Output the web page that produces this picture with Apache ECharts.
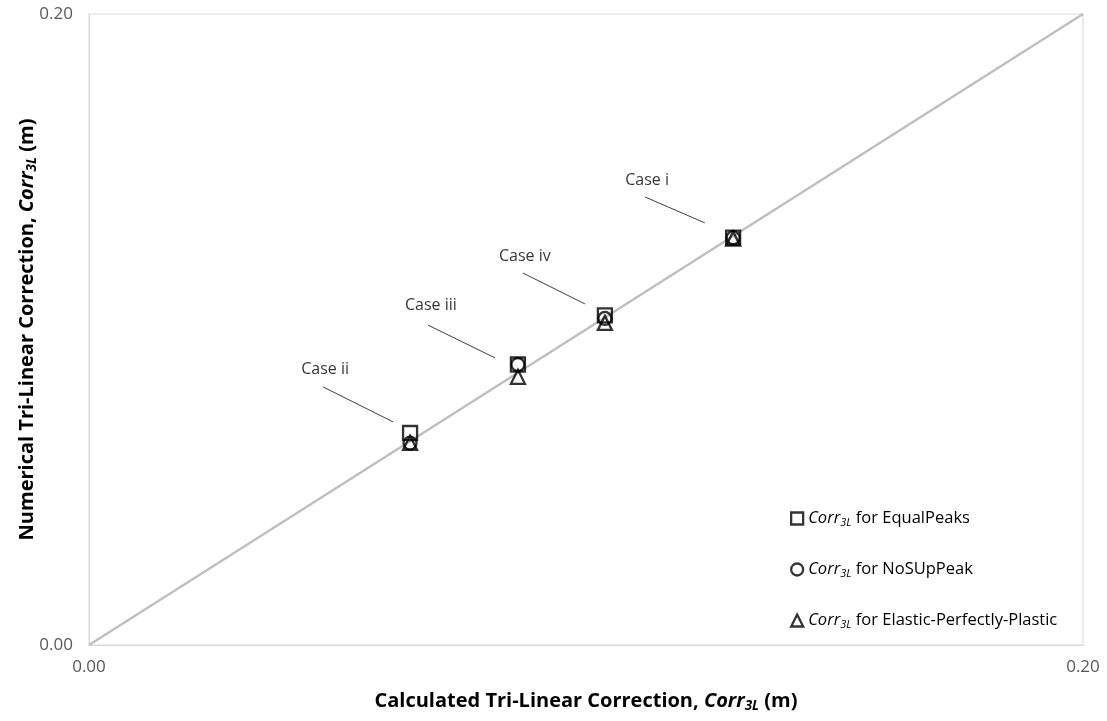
<!DOCTYPE html>
<html>
<head>
<meta charset="utf-8">
<script src="https://cdn.jsdelivr.net/npm/echarts@6/dist/echarts.min.js"></script>
<style>
  html, body { margin: 0; padding: 0; background: #fff; }
  #chart { width: 1107px; height: 721px; }
</style>
</head>
<body>
<div id="chart"></div>
<script>
// Calculated vs numerical tri-linear correction (m) for four cases
const caseNames = ['Case i', 'Case ii', 'Case iii', 'Case iv'];
const calculated = [0.1296, 0.0646, 0.0863, 0.1038];
const equalPeaks = [0.1291, 0.0672, 0.0889, 0.1045];
const noSUpPeak = [0.1291, 0.0640, 0.0889, 0.1035];
const elasticPerfectlyPlastic = [0.1288, 0.0641, 0.0850, 0.1021];
const axisTicks = [0.00, 0.20];
const equalityLine = [[0, 0], [0.2, 0.2]];

// callout label anchor and leader line ends, in data units
const calloutText = [[0.1123, 0.1474], [0.0475, 0.0872], [0.0688, 0.1075], [0.0877, 0.1233]];
const calloutFrom = [[0.1119, 0.1420], [0.0471, 0.0818], [0.0682, 0.1014], [0.0873, 0.1179]];
const calloutTo = [[0.1239, 0.1338], [0.0612, 0.0707], [0.0817, 0.0910], [0.0998, 0.1081]];

const FONT = '"Open Sans", "Noto Sans", sans-serif';

function pairs(ys) { return calculated.map((x, i) => [x, ys[i]]); }

const markerStyle = { color: 'rgba(0,0,0,0)', borderColor: '#000', borderWidth: 2.3 };

function markerSeries(name, ys, symbol, size) {
  return {
    name: name,
    type: 'scatter',
    data: pairs(ys),
    symbol: symbol,
    symbolSize: size,
    itemStyle: markerStyle,
    z: 5
  };
}

const legendRich = {
  c: { fontFamily: FONT, fontSize: 16.5, fontStyle: 'italic', color: '#000' },
  s: { fontFamily: FONT, fontSize: 11, fontStyle: 'italic', color: '#000', padding: [9, 0, 0, 0] },
  t: { fontFamily: FONT, fontSize: 16.5, color: '#000' }
};

const axisNameRich = {
  b: { fontFamily: FONT, fontSize: 20, fontWeight: 'bold', color: '#000' },
  i: { fontFamily: FONT, fontSize: 20, fontWeight: 'bold', fontStyle: 'italic', color: '#000' },
  s: { fontFamily: FONT, fontSize: 13.5, fontWeight: 'bold', fontStyle: 'italic', color: '#000', padding: [10, 0, 0, 0] }
};

const axisCommon = {
  type: 'value',
  min: axisTicks[0],
  max: axisTicks[axisTicks.length - 1],
  interval: axisTicks[1] - axisTicks[0],
  axisLine: { show: true, lineStyle: { color: '#d9d9d9', width: 1 } },
  axisTick: { show: false },
  splitLine: { show: false },
  axisLabel: {
    color: '#595959',
    fontFamily: FONT,
    fontSize: 17,
    formatter: v => v.toFixed(2)
  },
  nameLocation: 'middle',
  nameMoveOverlap: false
};

const option = {
  backgroundColor: '#fff',
  animation: false,
  grid: {
    left: 89, right: 24, top: 14, bottom: 76,
    containLabel: false,
    outerBoundsMode: 'none',
    show: true, borderColor: '#d9d9d9', borderWidth: 1
  },
  xAxis: Object.assign({}, axisCommon, {
    name: '{b|Calculated Tri-Linear Correction, }{i|Corr}{s|3L}{b| (m)}',
    nameGap: 44,
    nameTextStyle: { rich: axisNameRich },
    axisLabel: Object.assign({}, axisCommon.axisLabel, { margin: 14 })
  }),
  yAxis: Object.assign({}, axisCommon, {
    name: '{b|Numerical Tri-Linear Correction, }{i|Corr}{s|3L}{b| (m)}',
    nameGap: 50,
    nameTextStyle: { rich: axisNameRich },
    axisLabel: Object.assign({}, axisCommon.axisLabel, { margin: 16 })
  }),
  legend: {
    orient: 'vertical',
    left: 785,
    top: 505,
    itemWidth: 12,
    itemHeight: 12,
    itemGap: 32.5,
    data: [
      { name: 'EqualPeaks', icon: 'rect' },
      { name: 'NoSUpPeak', icon: 'circle' },
      { name: 'Elastic-Perfectly-Plastic', icon: 'triangle' }
    ],
    itemStyle: { color: 'rgba(0,0,0,0)', borderColor: '#000', borderWidth: 2.3 },
    formatter: n => '{c|Corr}{s|3L}{t| for ' + n + '}',
    textStyle: { rich: legendRich }
  },
  series: [
    {
      type: 'line',
      data: equalityLine,
      symbol: 'none',
      silent: true,
      lineStyle: { color: '#bfbfbf', width: 2.5 },
      z: 1
    },
    {
      type: 'scatter',
      data: calloutText.map((p, i) => ({ value: p, name: caseNames[i] })),
      symbolSize: 0,
      silent: true,
      label: {
        show: true,
        position: 'inside',
        formatter: '{b}',
        fontFamily: FONT,
        fontSize: 16,
        color: '#000'
      },
      markLine: {
        silent: true,
        symbol: 'none',
        label: { show: false },
        lineStyle: { color: '#404040', width: 1, type: 'solid' },
        data: calloutFrom.map((p, i) => [{ coord: p }, { coord: calloutTo[i] }])
      },
      z: 3
    },
    markerSeries('EqualPeaks', equalPeaks, 'rect', 14),
    markerSeries('NoSUpPeak', noSUpPeak, 'circle', 13),
    markerSeries('Elastic-Perfectly-Plastic', elasticPerfectlyPlastic, 'triangle', 14)
  ]
};

const chart = echarts.init(document.getElementById('chart'), null, { renderer: 'canvas' });
chart.setOption(option);
</script>
</body>
</html>
